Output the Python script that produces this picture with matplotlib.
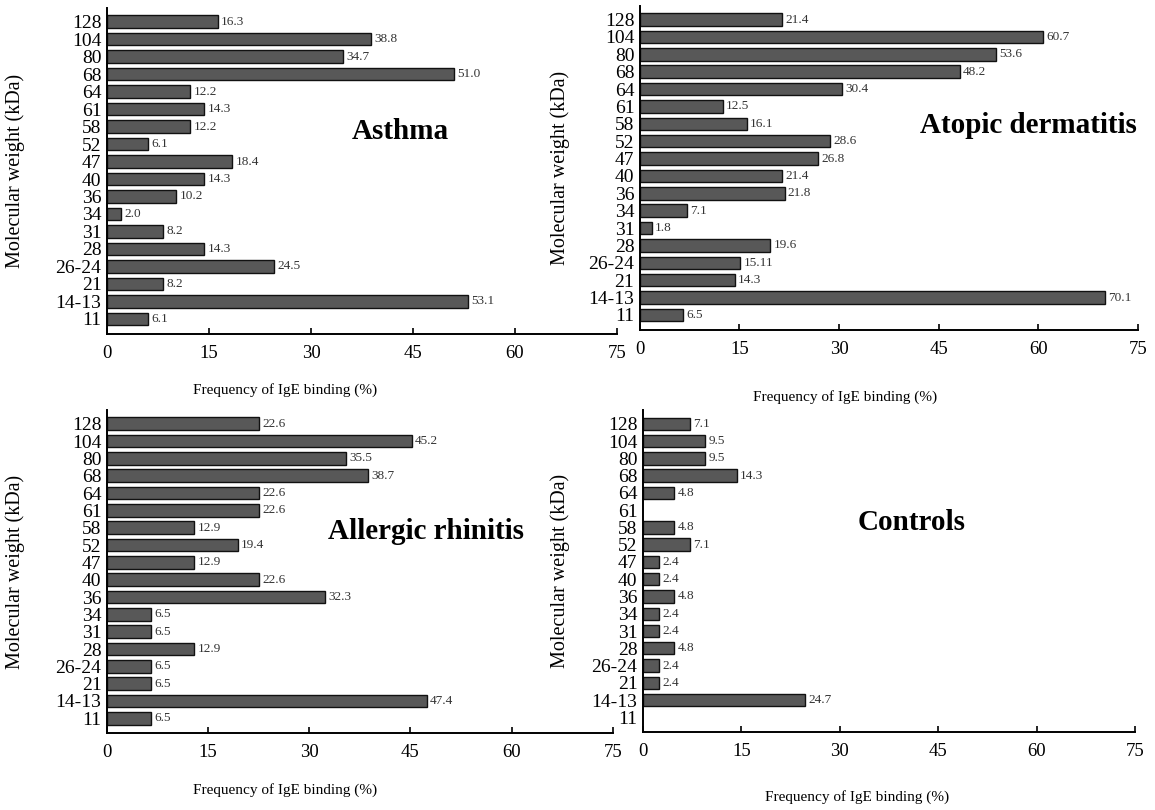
import numpy as np
import matplotlib
matplotlib.use('Agg')
import matplotlib.pyplot as plt

plt.rcParams['font.family'] = ['Liberation Serif', 'DejaVu Serif']

# Bandas (kDa), de cima para baixo
bandas = ['128', '104', '80', '68', '64', '61', '58', '52', '47', '40',
          '36', '34', '31', '28', '26-24', '21', '14-13', '11']

asma = [16.3, 38.8, 34.7, 51.0, 12.2, 14.3, 12.2, 6.1, 18.4, 14.3,
        10.2, 2.0, 8.2, 14.3, 24.5, 8.2, 53.1, 6.1]
asma_txt = ['16.3', '38.8', '34.7', '51.0', '12.2', '14.3', '12.2', '6.1', '18.4', '14.3',
            '10.2', '2.0', '8.2', '14.3', '24.5', '8.2', '53.1', '6.1']

dermatite = [21.4, 60.7, 53.6, 48.2, 30.4, 12.5, 16.1, 28.6, 26.8, 21.4,
             21.8, 7.1, 1.8, 19.6, 15.11, 14.3, 70.1, 6.5]
dermatite_txt = ['21.4', '60.7', '53.6', '48.2', '30.4', '12.5', '16.1', '28.6', '26.8', '21.4',
                 '21.8', '7.1', '1.8', '19.6', '15.11', '14.3', '70.1', '6.5']

rinite = [22.6, 45.2, 35.5, 38.7, 22.6, 22.6, 12.9, 19.4, 12.9, 22.6,
          32.3, 6.5, 6.5, 12.9, 6.5, 6.5, 47.4, 6.5]
rinite_txt = ['22.6', '45.2', '35.5', '38.7', '22.6', '22.6', '12.9', '19.4', '12.9', '22.6',
              '32.3', '6.5', '6.5', '12.9', '6.5', '6.5', '47.4', '6.5']

controles = [7.1, 9.5, 9.5, 14.3, 4.8, 0, 4.8, 7.1, 2.4, 2.4,
             4.8, 2.4, 2.4, 4.8, 2.4, 2.4, 24.7, 0]
controles_txt = ['7.1', '9.5', '9.5', '14.3', '4.8', '', '4.8', '7.1', '2.4', '2.4',
                 '4.8', '2.4', '2.4', '4.8', '2.4', '2.4', '24.7', '']

xticks = [0, 15, 30, 45, 60, 75]


def Painel(fig, rect, valores, textos, titulo, pos_titulo, ylab_x, xlab_pos):
    ax = fig.add_axes(rect)
    y = np.arange(len(bandas))
    v = np.array(valores, dtype=float)
    tem = v > 0
    # barras com valor zero nao aparecem no original
    ax.barh(y[tem], v[tem], height=0.72, color='#585858', edgecolor='#111111', linewidth=1.0)
    for i, val in enumerate(valores):
        if textos[i]:
            ax.text(val + 0.5, y[i], textos[i], va='center', ha='left', fontsize=9.5, color='#333333')
    ax.set_xlim(0, 75)
    ax.set_ylim(17.85, -0.8)
    ax.set_xticks(xticks)
    ax.set_yticks(y)
    ax.set_yticklabels(bandas)
    ax.tick_params(axis='x', direction='in', length=4, width=1.2, labelsize=13.5, pad=8)
    ax.tick_params(axis='y', length=0, labelsize=14, pad=4)
    for s in ['top', 'right']:
        ax.spines[s].set_visible(False)
    for s in ['left', 'bottom']:
        ax.spines[s].set_linewidth(1.4)
    ax.text(pos_titulo[0], pos_titulo[1], titulo, transform=ax.transAxes,
            fontsize=21, fontweight='bold', ha='center', va='center')
    fig.text(xlab_pos[0] / 1155, 1 - xlab_pos[1] / 810, 'Frequency of IgE binding (%)',
             fontsize=11, ha='center', va='center')
    b = rect[1] + rect[3] / 2
    fig.text(ylab_x, b, 'Molecular weight (kDa)', rotation=90, fontsize=14.5,
             ha='center', va='center')
    return ax


fig = plt.figure(figsize=(11.55, 8.1), dpi=100)

Painel(fig, [0.0926, 0.588, 0.4416, 0.4025], asma, asma_txt, 'Asthma',
       (0.575, 0.62), 0.013, (285, 390))
Painel(fig, [0.554, 0.593, 0.431, 0.40], dermatite, dermatite_txt, 'Atopic dermatitis',
       (0.78, 0.63), 0.485, (845, 397))
Painel(fig, [0.0926, 0.095, 0.438, 0.399], rinite, rinite_txt, 'Allergic rhinitis',
       (0.63, 0.625), 0.013, (285, 790))
Painel(fig, [0.5567, 0.0963, 0.426, 0.3975], controles, controles_txt, 'Controls',
       (0.545, 0.65), 0.485, (857, 797))

fig.savefig('out.png', dpi=100)
